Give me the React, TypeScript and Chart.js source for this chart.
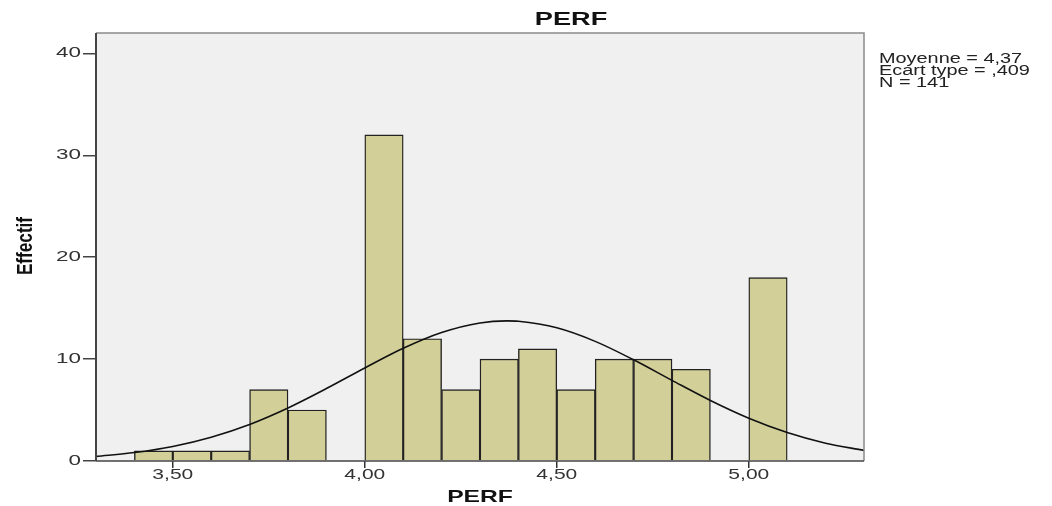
import React, { useEffect, useRef } from "react";
import { Chart, registerables } from "chart.js";

Chart.register(...registerables);

// Histogram bins (centres) and counts
const binCenters = [3.45, 3.55, 3.65, 3.75, 3.85, 3.95, 4.05, 4.15, 4.25, 4.35, 4.45, 4.55, 4.65, 4.75, 4.85, 4.95, 5.05];
const counts = [1, 1, 1, 7, 5, 0, 32, 12, 7, 10, 11, 7, 10, 10, 9, 0, 18];

// Normal curve
const curveX = [3.3, 3.4, 3.5, 3.6, 3.7, 3.8, 3.9, 4.0, 4.1, 4.2, 4.3, 4.37, 4.4, 4.5, 4.6, 4.7, 4.8, 4.9, 5.0, 5.1, 5.2, 5.3];
const curveY = [0.45, 0.83, 1.43, 2.34, 3.59, 5.21, 7.11, 9.13, 11.06, 12.61, 13.55, 13.75, 13.71, 13.07, 11.74, 9.93, 7.91, 5.94, 4.2, 2.8, 1.75, 1.04];

const yTicks = [0, 10, 20, 30, 40];
const yTickLabels = ["0", "10", "20", "30", "40"];
const xTicks = [3.5, 4.0, 4.5, 5.0];
const xTickLabels = ["3,50", "4,00", "4,50", "5,00"];

const titleText = "PERF";
const xTitle = "PERF";
const yTitle = "Effectif";
const statsLines = ["Moyenne = 4,37", "Ecart type = ,409", "N = 141"];

const FONT = "'Liberation Sans', Arial, sans-serif";

function stretchText(
  ctx: CanvasRenderingContext2D,
  text: string,
  x: number,
  y: number,
  sx: number,
  align: CanvasTextAlign,
  font: string,
  color: string
) {
  ctx.save();
  ctx.translate(x, y);
  ctx.scale(sx, 1);
  ctx.font = font;
  ctx.fillStyle = color;
  ctx.textAlign = align;
  ctx.textBaseline = "middle";
  ctx.fillText(text, 0, 0);
  ctx.restore();
}

const decorPlugin = {
  id: "decor",
  beforeDatasetsDraw(chart: any) {
    const { ctx, chartArea: a } = chart;
    ctx.save();
    ctx.fillStyle = "#f0f0f0";
    ctx.fillRect(a.left, a.top, a.right - a.left, a.bottom - a.top);
    ctx.restore();
  },
  afterDatasetsDraw(chart: any) {
    const { ctx, chartArea: a } = chart;
    ctx.save();
    // frame
    ctx.strokeStyle = "#8a8a8a";
    ctx.lineWidth = 1.5;
    ctx.beginPath();
    ctx.moveTo(a.left, a.top);
    ctx.lineTo(a.right, a.top);
    ctx.lineTo(a.right, a.bottom);
    ctx.stroke();
    ctx.strokeStyle = "#444";
    ctx.lineWidth = 2;
    ctx.beginPath();
    ctx.moveTo(a.left, a.top);
    ctx.lineTo(a.left, a.bottom);
    ctx.stroke();
    ctx.lineWidth = 1.5;
    ctx.beginPath();
    ctx.moveTo(a.left, a.bottom);
    ctx.lineTo(a.right, a.bottom);
    ctx.stroke();
    ctx.restore();

    const xs = chart.scales.x;
    const ys = chart.scales.y;
    const tickFont = `14px ${FONT}`;
    yTicks.forEach((v, i) => {
      stretchText(ctx, yTickLabels[i], a.left - 15, ys.getPixelForValue(v), 1.6, "right", tickFont, "#333");
    });
    xTicks.forEach((v, i) => {
      stretchText(ctx, xTickLabels[i], xs.getPixelForValue(v), 475, 1.5, "center", tickFont, "#333");
    });

    stretchText(ctx, titleText, 571, 20, 1.43, "center", `bold 19px ${FONT}`, "#111");
    stretchText(ctx, xTitle, (a.left + a.right) / 2, 497, 1.45, "center", `bold 17px ${FONT}`, "#111");

    ctx.save();
    ctx.translate(26, 246);
    ctx.rotate(-Math.PI / 2);
    stretchText(ctx, yTitle, 0, 0, 0.78, "center", `bold 22px ${FONT}`, "#111");
    ctx.restore();

    const sy = [59, 71, 83];
    statsLines.forEach((t, i) => {
      stretchText(ctx, t, 879, sy[i], 1.42, "left", `14px ${FONT}`, "#222");
    });
  },
};

export default function App() {
  const ref = useRef<HTMLCanvasElement | null>(null);
  useEffect(() => {
    if (!ref.current) return;
    const chart = new Chart(ref.current, {
      type: "bar",
      data: {
        datasets: [
          {
            type: "line",
            data: curveX.map((x, i) => ({ x, y: curveY[i] })),
            borderColor: "#111",
            borderWidth: 1.6,
            pointRadius: 0,
            cubicInterpolationMode: "monotone",
            fill: false,
            order: 0,
          } as any,
          {
            type: "bar",
            data: binCenters.map((x, i) => ({ x, y: counts[i] })),
            backgroundColor: "#d3cf99",
            borderColor: "#222",
            borderWidth: 1.4,
            barPercentage: 1,
            categoryPercentage: 1,
            order: 1,
          } as any,
        ],
      },
      options: {
        animation: false,
        responsive: false,
        maintainAspectRatio: false,
        layout: { padding: { left: 0, top: 33, right: 188, bottom: 0 } },
        plugins: { legend: { display: false }, title: { display: false }, tooltip: { enabled: false } },
        scales: {
          x: {
            type: "linear",
            min: 3.3,
            max: 5.3,
            offset: false,
            afterBuildTicks: (s: any) => {
              s.ticks = xTicks.map((v) => ({ value: v }));
            },
            afterFit: (s: any) => {
              s.height = 45;
            },
            ticks: { display: false },
            grid: { offset: false, drawOnChartArea: false, drawTicks: true, tickLength: 7, tickColor: "#333", lineWidth: 1.5 },
            border: { display: false },
          },
          y: {
            type: "linear",
            min: 0,
            max: 42,
            afterBuildTicks: (s: any) => {
              s.ticks = yTicks.map((v) => ({ value: v }));
            },
            afterFit: (s: any) => {
              s.width = 96;
            },
            ticks: { display: false },
            grid: { drawOnChartArea: false, drawTicks: true, tickLength: 13, tickColor: "#444", lineWidth: 1.5 },
            border: { display: false },
          },
        },
      },
      plugins: [decorPlugin],
    });
    return () => chart.destroy();
  }, []);
  return (
    <div style={{ position: "fixed", left: 0, top: 0, width: 1052, height: 506, background: "#fff" }}>
      <canvas ref={ref} width={1052} height={506} style={{ display: "block", width: 1052, height: 506 }} />
    </div>
  );
}
